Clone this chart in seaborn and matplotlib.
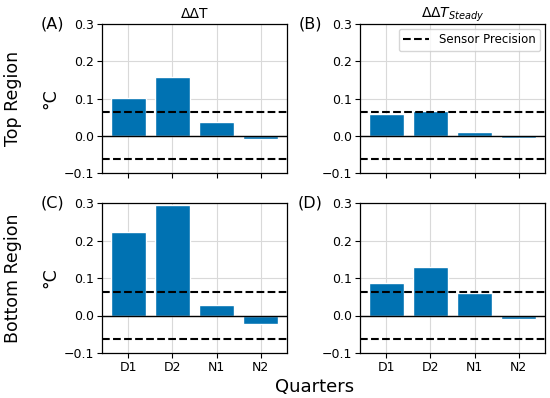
import matplotlib
matplotlib.use("Agg")
import matplotlib.pyplot as plt
import seaborn as sns
import pandas as pd

quarters = ["D1", "D2", "N1", "N2"]
top_ddt = [0.102, 0.157, 0.038, -0.009]
top_steady = [0.058, 0.066, 0.009, -0.005]
bottom_ddt = [0.223, 0.295, 0.029, -0.023]
bottom_steady = [0.087, 0.130, 0.059, -0.009]
sensor_precision = 0.063
panel_letters = ["(A)", "(B)", "(C)", "(D)"]
col_titles = ["ΔΔT", r"$\Delta\Delta T_{Steady}$"]
row_titles = ["Top Region", "Bottom Region"]

sns.set_theme(style="ticks")
plt.rcParams["font.family"] = ["DejaVu Sans"]
plt.rcParams["axes.edgecolor"] = "black"
plt.rcParams["xtick.color"] = "black"
plt.rcParams["ytick.color"] = "black"
plt.rcParams["text.color"] = "black"
plt.rcParams["axes.labelcolor"] = "black"
plt.rcParams["mathtext.fontset"] = "dejavusans"

W, H = 550, 398
fig = plt.figure(figsize=(W / 100, H / 100), dpi=100)

def frac(l, r, t, b):
    return [l / W, 1 - b / H, (r - l) / W, (b - t) / H]

boxes = [
    frac(102, 287, 24, 173),
    frac(360, 545, 24, 173),
    frac(102, 287, 203, 353),
    frac(360, 545, 203, 353),
]
data = [top_ddt, top_steady, bottom_ddt, bottom_steady]
color = "#0072B2"

for i, (box, vals) in enumerate(zip(boxes, data)):
    ax = fig.add_axes(box)
    df = pd.DataFrame({"q": quarters, "v": vals})
    sns.barplot(data=df, x="q", y="v", color=color, saturation=1, width=0.8, ax=ax, zorder=2)
    ax.grid(True, which="major", axis="both", color="#d9d9d9", linewidth=0.8)
    ax.set_axisbelow(True)
    ax.axhline(0, color="black", linewidth=1.0, zorder=3)
    ax.axhline(sensor_precision, color="black", linestyle="--", linewidth=1.5, zorder=4,
               label="Sensor Precision")
    ax.axhline(-sensor_precision, color="black", linestyle="--", linewidth=1.5, zorder=4)
    ax.set_xlim(-0.6, 3.6)
    ax.set_ylim(-0.1, 0.3)
    ax.set_yticks([-0.1, 0.0, 0.1, 0.2, 0.3])
    ax.tick_params(labelsize=9, length=3.5, width=0.8, pad=2.5, colors="black")
    for s in ax.spines.values():
        s.set_linewidth(0.9)
        s.set_color("black")
    ax.set_xlabel("")
    if i < 2:
        ax.set_xticklabels([])
    if i % 2 == 0:
        ax.set_ylabel("°C", fontsize=12.5, labelpad=3)
    else:
        ax.set_ylabel("")
    ax.text(-0.205, 1.0, panel_letters[i], transform=ax.transAxes, fontsize=11.5,
            ha="right", va="center")
    if i < 2:
        ax.set_title(col_titles[i], fontsize=10, pad=4)
    if i == 1:
        ax.legend(loc="upper right", fontsize=8.5, frameon=True, handlelength=2.2,
                  borderpad=0.4, fancybox=True, borderaxespad=0.4)

fig.text(13 / W, 1 - 98.5 / H, row_titles[0], rotation=90, fontsize=12.5, ha="center", va="center")
fig.text(13 / W, 1 - 278 / H, row_titles[1], rotation=90, fontsize=12.5, ha="center", va="center")
fig.text(315 / W, 1 - 387 / H, "Quarters", fontsize=13, ha="center", va="center")

fig.savefig("out.png", dpi=100)
